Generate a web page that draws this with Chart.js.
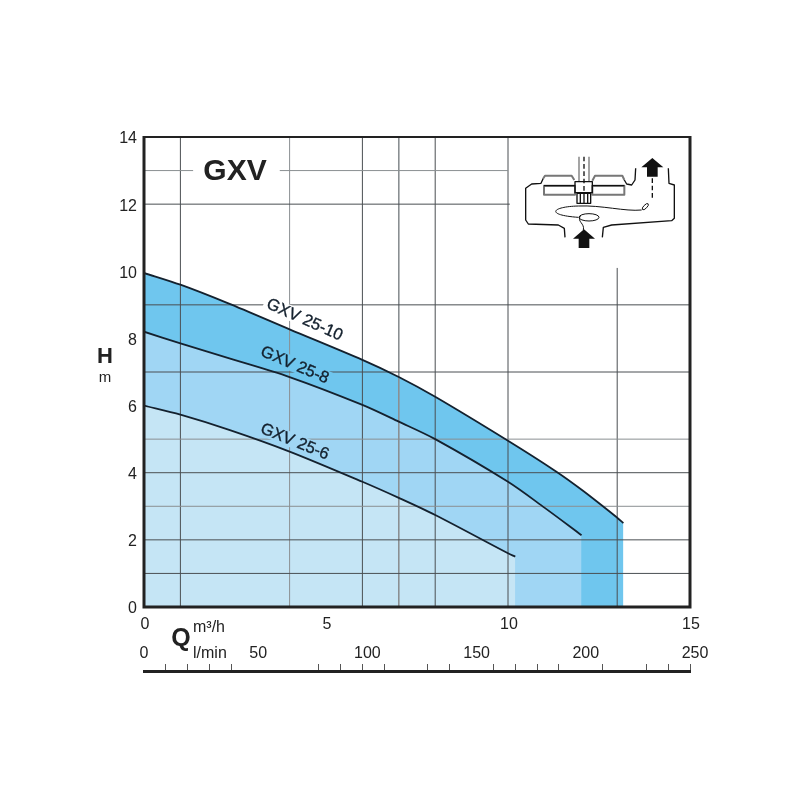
<!DOCTYPE html>
<html>
<head>
<meta charset="utf-8">
<script src="https://cdn.jsdelivr.net/npm/chart.js@4"></script>
<style>
  body { margin: 0; background: #fff; }
</style>
</head>
<body>
<canvas id="pump-chart" width="800" height="800"></canvas>
<script>
const FONT = '"Liberation Sans", Arial, sans-serif';
const INK = '#222222';

// curves: flow in m3/h, head in m
const q10 = [0, 1, 2.3, 4, 6, 7, 8, 10, 11.3, 12.06, 13, 13.17];
const h10 = [9.95, 9.6, 9.05, 8.27, 7.36, 6.85, 6.26, 4.95, 4.05, 3.46, 2.66, 2.5];
const q8 = [0, 1, 2.3, 4, 6, 7, 8, 10, 11, 12.02];
const h8 = [8.2, 7.85, 7.42, 6.85, 6.02, 5.52, 5.0, 3.73, 2.96, 2.14];
const q6 = [0, 1, 2.36, 4, 6, 7, 8, 10, 10.2];
const h6 = [6.0, 5.73, 5.27, 4.63, 3.73, 3.25, 2.74, 1.6, 1.5];

const flowTicks = [0, 5, 10, 15];
const headTicks = [0, 2, 4, 6, 8, 10, 12, 14];
const lminLabels = [0, 50, 100, 150, 200, 250];
const lminMarks = [10, 20, 30, 40, 80, 90, 100, 110, 130, 140, 160, 170, 180, 190, 210, 230, 240, 250];

// grid of the original is irregular: [head, from flow, to flow]
const hGrid = [[1, 0, 15], [2, 0, 15], [3, 0, 15], [4, 0, 15], [5, 0, 15], [7, 0, 15], [9, 0, 15],
    [12, 0, 10.05], [13, 0, 1.35], [13, 3.73, 10]];
// [flow, from head, to head]
const vGrid = [[1, 0, 14], [4, 0, 14], [6, 0, 14], [7, 0, 14], [8, 0, 14], [10, 0, 14], [13, 0, 10.1]];
const lightLines = ['h3', 'h5', 'h13', 'v4', 'v7'];

const curveLabels = [
    { text: 'GXV 25-10', q: 4.41, h: 8.55, angle: 24, back: '#ffffff' },
    { text: 'GXV 25-8', q: 4.14, h: 7.2, angle: 23, back: '#6fc6ee' },
    { text: 'GXV 25-6', q: 4.14, h: 4.92, angle: 22, back: '#a0d6f4' }
];

function toPoints(xs, ys) {
    return xs.map((x, i) => ({ x: x, y: ys[i] }));
}

function fillSet(xs, ys, color, order) {
    return { data: toPoints(xs, ys), backgroundColor: color, borderWidth: 0, fill: 'origin', tension: 0.3, pointRadius: 0, order: order };
}

function curveSet(xs, ys) {
    return { data: toPoints(xs, ys), borderColor: '#14212e', borderWidth: 1.8, fill: false, tension: 0.3, pointRadius: 0, order: 10 };
}

function gridSet(points, key) {
    const light = lightLines.includes(key);
    return { data: points, borderColor: light ? '#8a8f92' : '#4a4f52', borderWidth: key === 'v7' ? 1.6 : 1, fill: false, pointRadius: 0, order: 20 };
}

const gridSets = [];
hGrid.forEach(l => gridSets.push(gridSet([{ x: l[1], y: l[0] }, { x: l[2], y: l[0] }], 'h' + l[0])));
vGrid.forEach(l => gridSets.push(gridSet([{ x: l[0], y: l[1] }, { x: l[0], y: l[2] }], 'v' + l[0])));

function text(ctx, str, x, y, font, align) {
    ctx.font = font;
    ctx.textAlign = align || 'center';
    ctx.textBaseline = 'middle';
    ctx.fillStyle = INK;
    ctx.fillText(str, x, y);
}

// the little pump section in the top right corner, sketched in 3x crop units
function drawPump(ctx) {
    ctx.save();
    ctx.translate(515, 150);
    ctx.scale(1 / 3, 1 / 3);
    ctx.strokeStyle = '#111';
    ctx.fillStyle = '#111';
    ctx.lineWidth = 4;
    ctx.lineJoin = 'round';

    const path = pts => {
        ctx.beginPath();
        pts.forEach((p, i) => i ? ctx.lineTo(p[0], p[1]) : ctx.moveTo(p[0], p[1]));
        ctx.stroke();
    };
    path([[85, 85], [78, 100], [50, 102], [32, 115], [32, 210], [40, 222], [130, 225], [148, 235], [150, 262]]);
    path([[262, 262], [265, 232], [290, 225], [470, 212], [478, 205], [478, 105], [462, 100], [460, 55]]);
    path([[362, 55], [360, 90], [350, 105], [335, 102], [328, 90]]);

    // impeller
    ctx.strokeStyle = '#777';
    ctx.lineWidth = 6;
    path([[85, 85], [90, 77], [170, 77], [178, 90]]);
    path([[232, 92], [240, 77], [322, 77], [328, 90]]);
    ctx.strokeRect(87, 107, 93, 27);
    ctx.strokeRect(232, 107, 96, 27);
    ctx.strokeStyle = '#111';
    ctx.lineWidth = 4;
    path([[87, 107], [180, 107]]);
    path([[232, 107], [328, 107]]);

    // shaft, nut and bolt
    ctx.strokeStyle = '#777';
    path([[192, 20], [192, 95]]);
    path([[222, 20], [222, 95]]);
    ctx.strokeStyle = '#111';
    ctx.strokeRect(180, 95, 52, 33);
    ctx.strokeRect(186, 130, 41, 30);
    path([[196, 130], [196, 160]]);
    path([[207, 130], [207, 160]]);
    path([[218, 130], [218, 160]]);
    ctx.setLineDash([14, 8]);
    path([[207, 20], [207, 125]]);
    path([[412, 85], [412, 150]]);
    ctx.setLineDash([]);

    // swirl
    ctx.lineWidth = 3;
    ctx.beginPath();
    ctx.moveTo(380, 180);
    ctx.bezierCurveTo(330, 185, 260, 165, 190, 168);
    ctx.bezierCurveTo(110, 170, 90, 195, 190, 202);
    ctx.stroke();
    ctx.beginPath();
    ctx.ellipse(222, 202, 30, 11, 0, 0, Math.PI * 2);
    ctx.stroke();
    ctx.beginPath();
    ctx.moveTo(196, 198);
    ctx.bezierCurveTo(185, 215, 210, 220, 205, 240);
    ctx.stroke();
    ctx.beginPath();
    ctx.ellipse(391, 170, 12, 5, -0.8, 0, Math.PI * 2);
    ctx.stroke();

    // arrows
    const arrow = (cx, tip) => {
        ctx.beginPath();
        ctx.moveTo(cx, tip);
        ctx.lineTo(cx + 33, tip + 28);
        ctx.lineTo(cx + 16, tip + 28);
        ctx.lineTo(cx + 16, tip + 56);
        ctx.lineTo(cx - 16, tip + 56);
        ctx.lineTo(cx - 16, tip + 28);
        ctx.lineTo(cx - 33, tip + 28);
        ctx.closePath();
        ctx.fill();
    };
    arrow(412, 24);
    arrow(207, 238);
    ctx.restore();
}

const decorations = {
    id: 'decorations',
    afterDraw(chart) {
        const ctx = chart.ctx;
        const area = chart.chartArea;
        const xScale = chart.scales.x;
        const yScale = chart.scales.y;
        const lmin = chart.scales.lmin;

        // frame goes on last, the fills would cover the scale borders
        ctx.save();
        ctx.strokeStyle = INK;
        ctx.lineWidth = 2;
        ctx.beginPath();
        ctx.moveTo(area.left, area.top);
        ctx.lineTo(area.right, area.top);
        ctx.stroke();
        ctx.lineWidth = 3;
        ctx.beginPath();
        ctx.moveTo(area.left, area.top - 1);
        ctx.lineTo(area.left, area.bottom);
        ctx.lineTo(area.right, area.bottom);
        ctx.lineTo(area.right, area.top - 1);
        ctx.stroke();

        curveLabels.forEach(l => {
            ctx.save();
            ctx.translate(xScale.getPixelForValue(l.q), yScale.getPixelForValue(l.h));
            ctx.rotate(l.angle * Math.PI / 180);
            ctx.font = '16.5px ' + FONT;
            const w = ctx.measureText(l.text).width;
            ctx.fillStyle = l.back;
            ctx.fillRect(-w / 2 - 3, -8, w + 6, 15);
            ctx.fillStyle = '#14212e';
            ctx.strokeStyle = '#14212e';
            ctx.lineWidth = 0.35;
            ctx.textAlign = 'center';
            ctx.textBaseline = 'middle';
            ctx.fillText(l.text, 0, 0);
            ctx.strokeText(l.text, 0, 0);
            ctx.restore();
        });

        // l/min labels sit above their axis line, which the scale can't do itself
        lminLabels.forEach((v, i) => {
            text(ctx, String(v), lmin.getPixelForValue(v) + (i === 0 ? 0 : 5), 654, '16px ' + FONT);
        });

        text(ctx, 'GXV', 235, 172, 'bold 30px ' + FONT);
        text(ctx, 'H', 105, 357, 'bold 22px ' + FONT);
        text(ctx, 'm', 105, 378, '15px ' + FONT);
        text(ctx, 'Q', 181, 639, 'bold 25px ' + FONT);
        text(ctx, 'm\u00b3/h', 193, 628, '16px ' + FONT, 'left');
        text(ctx, 'l/min', 193, 654, '16px ' + FONT, 'left');
        drawPump(ctx);
        ctx.restore();
    }
};

new Chart(document.getElementById('pump-chart'), {
    type: 'line',
    data: {
        datasets: [
            fillSet(q10, h10, '#6fc6ee', 32),
            fillSet(q8, h8, '#a0d6f4', 31),
            fillSet(q6, h6, '#c5e5f5', 30)
        ].concat(gridSets, [curveSet(q10, h10), curveSet(q8, h8), curveSet(q6, h6)])
    },
    options: {
        responsive: false,
        animation: false,
        layout: { padding: { top: 137, right: 110, bottom: 121, left: 0 } },
        plugins: { legend: { display: false }, tooltip: { enabled: false } },
        scales: {
            x: {
                type: 'linear',
                position: 'bottom',
                min: 0,
                max: 15,
                afterBuildTicks: scale => { scale.ticks = flowTicks.map(v => ({ value: v })); },
                afterFit: scale => { scale.height = 64; },
                grid: { display: false, drawTicks: false },
                border: { display: false },
                ticks: { color: INK, font: { family: FONT, size: 16 }, padding: 8, labelOffset: 1, maxRotation: 0, autoSkip: false }
            },
            lmin: {
                type: 'linear',
                axis: 'x',
                position: 'bottom',
                min: 0,
                max: 250,
                afterBuildTicks: scale => { scale.ticks = lminMarks.map(v => ({ value: v })); },
                afterFit: scale => { scale.height = 8; },
                grid: { drawOnChartArea: false, drawTicks: true, tickLength: -7, color: '#555' },
                border: { display: true, color: INK, width: 3 },
                ticks: { display: false }
            },
            y: {
                type: 'linear',
                min: 0,
                max: 14,
                afterBuildTicks: scale => { scale.ticks = headTicks.map(v => ({ value: v })); },
                afterFit: scale => { scale.width = 144; },
                grid: { display: false, drawTicks: false },
                border: { display: false },
                ticks: { color: INK, font: { family: FONT, size: 16 }, padding: 7, labelOffset: 2 }
            }
        }
    },
    plugins: [decorations]
});
</script>
</body>
</html>
